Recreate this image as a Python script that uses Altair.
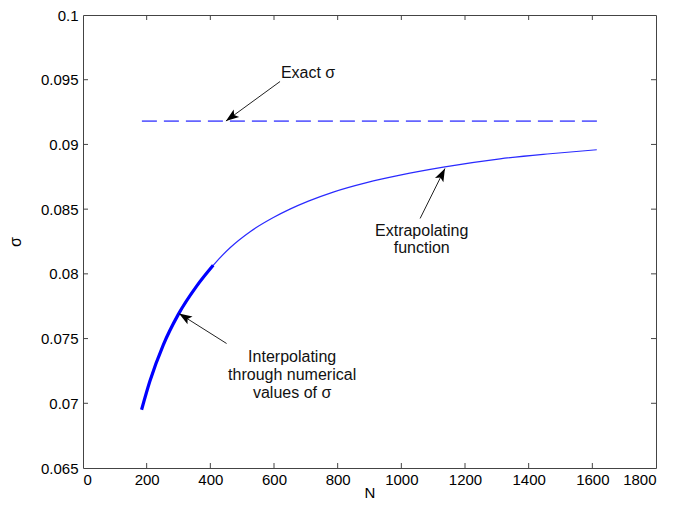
import math
import altair as alt
import pandas as pd

# ---- data ----
thick_N = [184, 210, 252, 299, 357, 409]
thick_sigma = [0.0695, 0.0717, 0.0745, 0.07685, 0.07905, 0.08066]

thin_N = [299, 357, 409, 462, 525, 598, 650, 708, 786, 891, 996, 1132, 1310, 1467, 1614]
thin_sigma = [0.07685, 0.07905, 0.08066, 0.08202, 0.08326, 0.08435, 0.08500, 0.08562,
              0.08632, 0.08705, 0.08763, 0.08825, 0.08889, 0.08928, 0.08959]

exact_N = [185, 1615]
exact_sigma = [0.0918, 0.0918]

x_ticks = [0, 200, 400, 600, 800, 1000, 1200, 1400, 1600, 1800]
y_ticks = [0.065, 0.07, 0.075, 0.08, 0.085, 0.09, 0.095, 0.1]

labels = ["Exact σ", "Extrapolating", "function", "Interpolating",
          "through numerical", "values of σ"]
label_N = [707, 1064, 1064, 657, 657, 657]
label_sigma = [0.09517, 0.08296, 0.08165, 0.07319, 0.07180, 0.07041]

arrow_tail_N = [619, 1059, 451]
arrow_tail_sigma = [0.09486, 0.08428, 0.07462]
arrow_tip_N = [449, 1137, 301.6]
arrow_tip_sigma = [0.09181, 0.08814, 0.07694]

# ---- layout ----
W, H = 573, 453
XMIN, XMAX = 0, 1800
YMIN, YMAX = 0.065, 0.1
FONT = "Liberation Sans"

xs = alt.Scale(domain=[XMIN, XMAX], nice=False, zero=False)
ys = alt.Scale(domain=[YMIN, YMAX], nice=False, zero=False)

thick_df = pd.DataFrame({"N": thick_N, "sigma": thick_sigma})
thin_df = pd.DataFrame({"N": thin_N, "sigma": thin_sigma})
exact_df = pd.DataFrame({"N": exact_N, "sigma": exact_sigma})
label_df = pd.DataFrame({"N": label_N, "sigma": label_sigma, "text": labels})


def px_dx(dn):
    return dn * W / (XMAX - XMIN)


def px_dy(ds):
    return -ds * H / (YMAX - YMIN)


angles = []
for tn, ts, hn, hs in zip(arrow_tail_N, arrow_tail_sigma, arrow_tip_N, arrow_tip_sigma):
    dx = px_dx(hn - tn)
    dy = px_dy(hs - ts)
    angles.append(math.degrees(math.atan2(dx, -dy)) % 360)

arrow_df = pd.DataFrame({
    "N": arrow_tail_N, "sigma": arrow_tail_sigma,
    "N2": arrow_tip_N, "sigma2": arrow_tip_sigma, "angle": angles,
})

xax = alt.Axis(values=x_ticks, format="d", ticks=False, domain=False, grid=False,
               labelFont=FONT, labelFontSize=15, labelColor="black", labelPadding=4,
               titleFont=FONT, titleFontSize=15, titleFontWeight="normal",
               titleColor="black", titlePadding=-2)
yax = alt.Axis(values=y_ticks, format=".3~f", ticks=False, domain=False, grid=False,
               labelFont=FONT, labelFontSize=15, labelColor="black", labelPadding=5,
               titleFont=FONT, titleFontSize=16, titleFontWeight="normal",
               titleColor="black", titlePadding=17)

base_x = alt.X("N:Q", scale=xs, axis=xax, title="N")
base_y = alt.Y("sigma:Q", scale=ys, axis=yax, title="σ")

exact_line = alt.Chart(exact_df).mark_line(
    color="#6464ff", strokeWidth=1.6, strokeDash=[15, 7]
).encode(x=base_x, y=base_y)

thin_line = alt.Chart(thin_df).mark_line(
    color="#2a2aff", strokeWidth=1.2, interpolate="monotone"
).encode(x="N:Q", y="sigma:Q")

thick_line = alt.Chart(thick_df).mark_line(
    color="#0000ff", strokeWidth=3.2, interpolate="monotone"
).encode(x="N:Q", y="sigma:Q")

texts = alt.Chart(label_df).mark_text(
    font=FONT, fontSize=16, color="#111", align="center", baseline="alphabetic"
).encode(x="N:Q", y="sigma:Q", text="text:N")

shafts = alt.Chart(arrow_df).mark_rule(color="#222", strokeWidth=1).encode(
    x="N:Q", y="sigma:Q", x2="N2:Q", y2="sigma2:Q")

heads = alt.Chart(arrow_df).mark_point(
    shape="M0,0L-0.36,1L0,0.78L0.36,1Z", size=676, filled=True,
    color="black", opacity=1, strokeWidth=0
).encode(x="N2:Q", y="sigma2:Q", angle=alt.Angle("angle:Q", scale=None))

xt_df = pd.DataFrame({"t": x_ticks[1:-1]})
yt_df = pd.DataFrame({"t": y_ticks[1:-1]})
TICK = 5
TC = "#444"
xt_bottom = alt.Chart(xt_df).mark_rule(color=TC, strokeWidth=1).encode(
    x=alt.X("t:Q", scale=xs), y=alt.value(H), y2=alt.value(H - TICK))
xt_top = alt.Chart(xt_df).mark_rule(color=TC, strokeWidth=1).encode(
    x=alt.X("t:Q", scale=xs), y=alt.value(0), y2=alt.value(TICK))
yt_left = alt.Chart(yt_df).mark_rule(color=TC, strokeWidth=1).encode(
    y=alt.Y("t:Q", scale=ys), x=alt.value(0), x2=alt.value(TICK))
yt_right = alt.Chart(yt_df).mark_rule(color=TC, strokeWidth=1).encode(
    y=alt.Y("t:Q", scale=ys), x=alt.value(W), x2=alt.value(W - TICK))

chart = alt.layer(
    exact_line, thin_line, thick_line, shafts, heads, texts,
    xt_bottom, xt_top, yt_left, yt_right
).properties(
    width=W, height=H,
    autosize=alt.AutoSizeParams(type="none"),
    padding={"left": 83, "top": 15, "right": 32, "bottom": 39},
    background="white",
).configure_view(
    stroke=TC, strokeWidth=1
)

chart.save("out.html", embed_options={"renderer": "svg", "actions": False})
